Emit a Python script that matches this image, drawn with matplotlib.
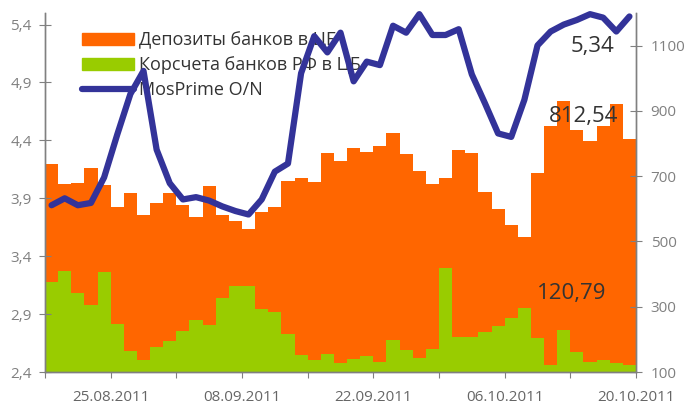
import matplotlib
matplotlib.use("Agg")
import matplotlib.pyplot as plt
from matplotlib.patches import Patch
from matplotlib.lines import Line2D
import numpy as np

plt.rcParams['font.family'] = ['Open Sans', 'DejaVu Sans']

# --- Data -----------------------------------------------------------------------

deposits = [738, 675, 678, 724, 672, 605, 650, 580, 617, 647, 611, 574, 669, 580, 563,
            537, 589, 605, 684, 693, 681, 770, 748, 785, 773, 791, 831, 767, 715, 676,
            693, 779, 770, 653, 598, 550, 513, 709, 855, 930, 840, 809, 855, 920, 812.54]
korsceta = [375, 409, 342, 305, 406, 247, 165, 138, 176, 195, 225, 259, 245, 326, 363,
            363, 293, 283, 216, 152, 137, 155, 128, 140, 149, 131, 198, 167, 143, 170,
            418, 207, 207, 222, 241, 265, 296, 204, 121, 228, 161, 131, 137, 128, 120.79]
mosprime = [3.84, 3.90, 3.84, 3.86, 4.08, 4.45, 4.80, 5.00, 4.32, 4.03, 3.89, 3.91, 3.88, 3.83, 3.79,
            3.76, 3.89, 4.13, 4.20, 4.98, 5.30, 5.16, 5.33, 4.91, 5.08, 5.05, 5.39, 5.33, 5.49, 5.31,
            5.31, 5.36, 4.97, 4.72, 4.46, 4.43, 4.75, 5.22, 5.34, 5.40, 5.44, 5.49, 5.46, 5.34, 5.47]

date_labels = ["25.08.2011", "08.09.2011", "22.09.2011", "06.10.2011", "20.10.2011"]
left_ticks = [2.4, 2.9, 3.4, 3.9, 4.4, 4.9, 5.4]
right_ticks = [100, 300, 500, 700, 900, 1100]

series_names = ["Депозиты банков в ЦБ", "Корсчета банков РФ в ЦБ", "MosPrime O/N"]

ORANGE = "#FF6600"
GREEN = "#99CC00"
BLUE = "#333399"
GRAY = "#808080"
TXT = "#333333"

# --- Plot -----------------------------------------------------------------------

n = len(deposits)
x = np.arange(n) + 0.5

fig = plt.figure(figsize=(6.87, 4.08), dpi=100)
ax = fig.add_axes([45 / 687, 36 / 408, 591 / 687, 359 / 408])
ax2 = ax.twinx()
ax.set_zorder(2)
ax.patch.set_visible(False)

ax2.bar(x, deposits, width=1.0, color=ORANGE, linewidth=0)
ax2.bar(x, korsceta, width=1.0, color=GREEN, linewidth=0)
ax2.set_ylim(100, 1200)
ax2.set_yticks(right_ticks)
ax2.set_yticklabels([str(t) for t in right_ticks])

ax.plot(x, mosprime, color=BLUE, linewidth=4.5, solid_joinstyle="round",
        solid_capstyle="round", clip_on=False)
ax.set_ylim(2.4, 5.5)
ax.set_yticks(left_ticks)
ax.set_yticklabels([f"{t:.1f}".replace(".", ",") for t in left_ticks])
ax.set_xlim(0, n)

xt = list(range(0, n + 1, 5))
ax.set_xticks(xt)
labels = [""] * len(xt)
for i, lab in enumerate(date_labels):
    labels[2 * i + 1] = lab
ax.set_xticklabels(labels)

for a in (ax, ax2):
    a.spines["top"].set_visible(False)
    for s in ("left", "right", "bottom"):
        a.spines[s].set_color(GRAY)
        a.spines[s].set_linewidth(1.0)
ax.tick_params(axis="y", direction="inout", length=9, color=GRAY, labelcolor=GRAY,
               labelsize=11, pad=5)
ax2.tick_params(axis="y", direction="inout", length=9, color=GRAY, labelcolor=GRAY,
                labelsize=11, pad=6)
ax.tick_params(axis="x", direction="out", length=4, color=GRAY, labelcolor="#666666",
               labelsize=11, pad=9)
ax2.tick_params(axis="x", bottom=False, labelbottom=False)

# value labels for the last day
ax.text(41.66, 5.21, "5,34", ha="center", va="center", fontsize=16, color=TXT)
ax2.text(40.97, 884, "812,54", ha="center", va="center", fontsize=16, color=TXT)
ax2.text(40.1, 339, "120,79", ha="center", va="center", fontsize=16, color=TXT)

handles = [Patch(color=ORANGE), Patch(color=GREEN),
           Line2D([], [], color=BLUE, linewidth=4.5, solid_capstyle="round")]
leg = ax.legend(handles, series_names, loc="upper left", bbox_to_anchor=(0.062, 0.95),
                frameon=False, fontsize=13, handlelength=2.9, handleheight=0.65,
                handletextpad=0.3, labelspacing=0.4, borderpad=0, borderaxespad=0)
for t in leg.get_texts():
    t.set_color(TXT)
leg.set_zorder(1)

fig.savefig("out.png", dpi=100)
